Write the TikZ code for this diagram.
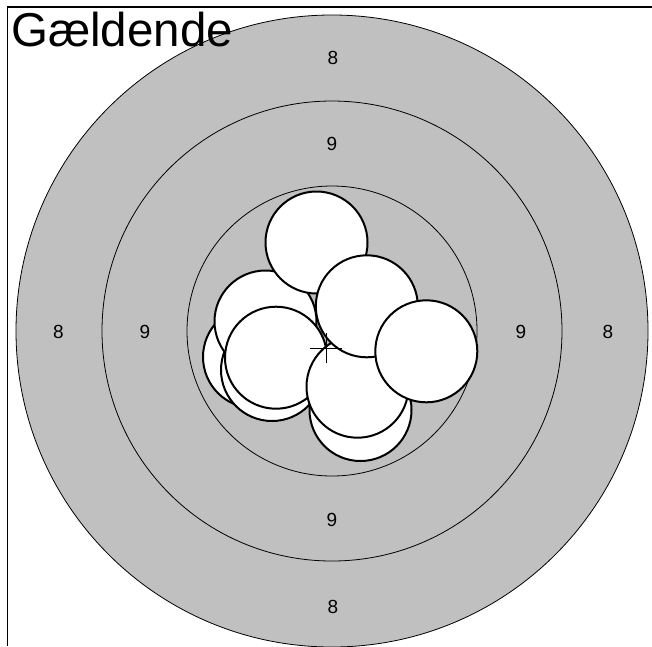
\documentclass[tikz,border=0pt]{standalone}
\usepackage{fontspec}
\setmainfont{Liberation Sans}
\definecolor{tgtgray}{HTML}{C0C0C0}
\begin{document}
\begin{tikzpicture}[x=1pt,y=-1pt,
  ring/.style={draw=black, line width=0.8pt},
  shot/.style={draw=black, fill=white, line width=2pt},
  lbl/.style={font=\fontsize{19}{19}\selectfont, inner sep=0pt},
  frameline/.style={draw=black, line width=1.6pt}]
\useasboundingbox (0,0) rectangle (652,646);
\coordinate (c) at (332,331);
\fill[tgtgray] (c) circle[radius=316pt];
\draw[ring] (c) circle[radius=316pt];
\draw[ring] (c) circle[radius=230pt];
\draw[ring] (c) circle[radius=145pt];
% ring labels
\node[lbl] (t8) at (333,57.5) {8};
\node[lbl] (t9) at (332,144) {9};
\node[lbl] (b9) at (332,520) {9};
\node[lbl] (b8) at (333,607) {8};
\node[lbl] (l8) at (58.5,332) {8};
\node[lbl] (l9) at (145,332) {9};
\node[lbl] (r9) at (521,332) {9};
\node[lbl] (r8) at (608,332) {8};
% shots
\draw[shot] (254,357) circle[radius=51pt];
\draw[shot] (272,370) circle[radius=51pt];
\draw[shot] (265.5,321.5) circle[radius=51pt];
\draw[shot] (316.5,242.5) circle[radius=51pt];
\draw[shot] (276,357.7) circle[radius=51pt];
\draw[shot] (360.5,410) circle[radius=51pt];
\draw[shot] (357.5,386.7) circle[radius=51pt];
\draw[shot] (366.8,306.3) circle[radius=51pt];
\draw[shot] (426.3,351.3) circle[radius=51pt];
% crosshair
\coordinate (mp) at (326,348);
\draw[line width=1pt] ([xshift=-16pt]mp) -- ([xshift=16pt]mp);
\draw[line width=1pt] ([yshift=15pt]mp) -- ([yshift=-15pt]mp);
% frame
\draw[frameline] (7.5,646) -- (7.5,6.7) -- (652,6.7);
\node[anchor=base west, inner sep=0pt, font=\fontsize{47.5}{47.5}\selectfont] (title) at (11,46) {Gældende};
\end{tikzpicture}
\end{document}
